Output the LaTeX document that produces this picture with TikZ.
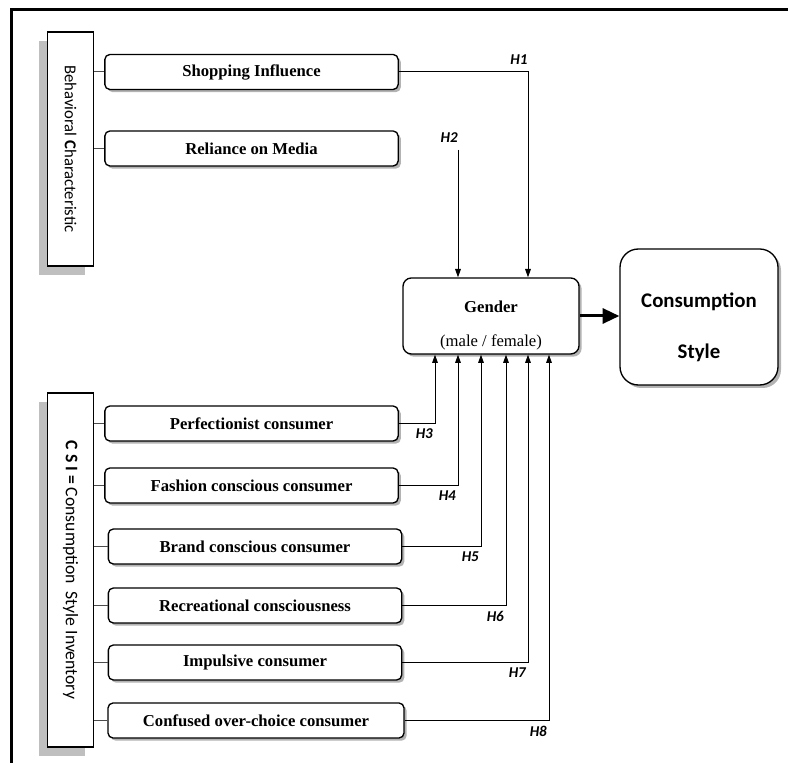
\documentclass[tikz,border=0pt]{standalone}
\usepackage{fontspec}
\setmainfont{Liberation Serif}
\newfontfamily\calibri{Carlito}
\usetikzlibrary{arrows.meta,shadows}

\begin{document}
\begin{tikzpicture}[x=0.6pt, y=-0.6pt,
				every node/.style={inner sep=1pt},
				itembox/.style={draw, line width=0.8pt, rounded corners=3pt, fill=white, minimum width=176pt, minimum height=21pt, font=\bfseries,
					drop shadow={shadow xshift=1.6pt, shadow yshift=-1.6pt, opacity=.6}},
				groupbox/.style={draw, line width=0.8pt, fill=white, minimum width=27.6pt,
					drop shadow={shadow xshift=-5.4pt, shadow yshift=-5.4pt, fill=black!25, opacity=1}},
				grouplabel/.style={rotate=-90, font=\calibri},
				stub/.style={draw=black!70, line width=0.6pt},
				hyp/.style={draw, line width=0.6pt, -{Triangle[length=5pt, width=3.4pt]}},
				hlab/.style={font=\calibri\bfseries\itshape\small}
				]
				\useasboundingbox (0,0) rectangle (788,763);
				\draw[line width=1.8pt] (11,763) -- (11,9.5) -- (788,9.5);

				% behavioral characteristic
				\node[groupbox, minimum height=140.4pt] (bc) at (70.5,149) {};
				\node[grouplabel] (bctext) at (bc) {Behavioral \textbf{C}haracteristic};
				\node[itembox] (si) at (251.5,72) {Shopping Influence};
				\node[itembox] (rm) at (251.5,148.5) {Reliance on Media};
				\foreach \n in {si,rm} \draw[stub] (bc.east |- \n.west) -- (\n.west);

				% consumption style inventory
				\node[groupbox, minimum height=212.4pt] (csi) at (70.5,570) {};
				\node[grouplabel, font=\calibri\fontsize{10.6}{12}\selectfont] (csitext) at (csi) {\textbf{C S I =} Consumption\ \ Style Inventory};
				\node[itembox] (pc) at (251.5,423.5) {Perfectionist consumer};
				\node[itembox] (fc) at (251.5,485.5) {Fashion conscious consumer};
				\node[itembox] (bcc) at (255,546.5) {Brand conscious consumer};
				\node[itembox] (rc) at (255,605.5) {Recreational consciousness};
				\node[itembox] (ic) at (255,662.5) {Impulsive consumer};
				\node[itembox, minimum width=177.6pt] (coc) at (256,720.5) {Confused over-choice consumer};
				\foreach \n in {pc,fc,bcc,rc,ic,coc} \draw[stub] (csi.east |- \n.west) -- (\n.west);

				% moderator and outcome
				\node[draw, line width=0.8pt, rounded corners=5pt, fill=white, minimum width=105.6pt, minimum height=45.6pt,
					drop shadow={shadow xshift=1.6pt, shadow yshift=-1.6pt, opacity=.6}] (gender) at (491,316) {};
				\node[font=\bfseries] (gtitle) at (491,307) {Gender};
				\node (gsub) at (491,342) {(male / female)};
				\node[draw, line width=0.8pt, rounded corners=11pt, fill=white, minimum width=94.8pt, minimum height=81.6pt,
					drop shadow={shadow xshift=1.8pt, shadow yshift=-1.8pt, opacity=.6}] (cs) at (699,317) {};
				\node[font=\calibri\bfseries\fontsize{12.5}{15}\selectfont] (cstitle) at (699,302) {Consumption};
				\node[font=\calibri\bfseries\fontsize{12.5}{15}\selectfont] (cssub) at (699,353) {Style};
				\draw[line width=1.8pt, -{Triangle[length=10pt, width=9pt]}] (gender.east) -- (gender.east -| cs.west);

				% hypotheses
				\draw[hyp] (si.east) -| ([xshift=22.2pt]gender.north) node[pos=.5, anchor=south east, hlab, yshift=3pt, xshift=1pt] (h1) {H1};
				\coordinate (h2top) at (458,150);
				\node[hlab, anchor=south east, yshift=3pt, xshift=1pt] (h2) at (h2top) {H2};
				\draw[hyp] (h2top) -- (h2top |- gender.north);
				\foreach \n/\dx/\h in {pc/-33.6/3, fc/-19.8/4, bcc/-6/5, rc/9/6, ic/22.2/7, coc/34.8/8}
					\draw[hyp] (\n.east) -| ([xshift=\dx pt]gender.south) node[pos=.5, anchor=north east, hlab, yshift=-2pt] (h\h) {H\h};
			\end{tikzpicture}
\end{document}
